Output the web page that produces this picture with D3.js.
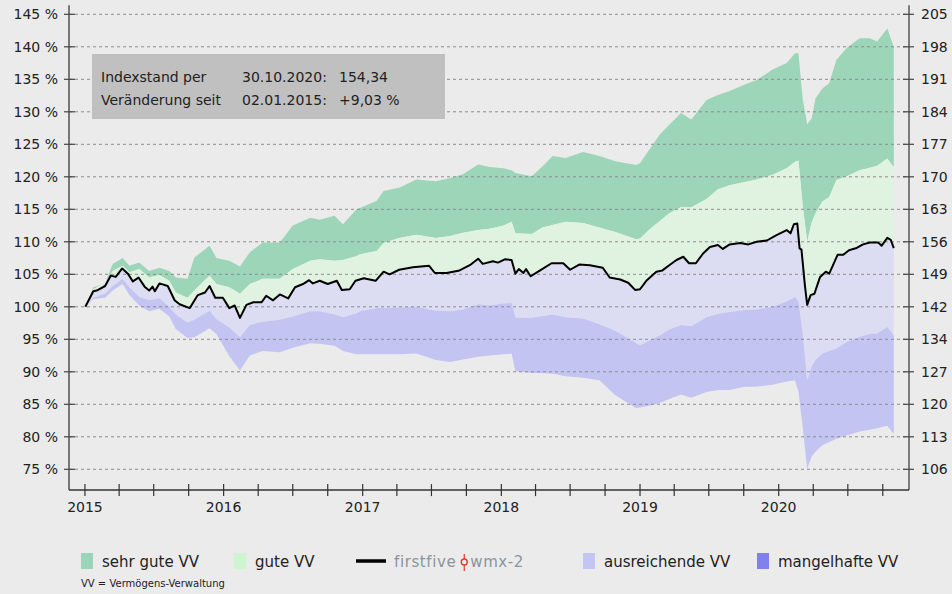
<!DOCTYPE html>
<html>
<head>
<meta charset="utf-8">
<script src="https://cdn.jsdelivr.net/npm/d3@7"></script>
<style>
  html, body { margin: 0; padding: 0; background: #ebebeb; }
  svg { display: block; font-family: "DejaVu Sans", sans-serif; }
</style>
</head>
<body>
<svg id="chart" width="952" height="594"></svg>
<script>
// ---- data ----
const bandDates = ["2015-01-02","2015-01-23","2015-02-23","2015-03-15","2015-04-10","2015-04-28","2015-05-24","2015-06-19","2015-07-16","2015-08-11","2015-08-28","2015-09-28","2015-10-16","2015-11-25","2015-12-13",
  "2016-01-16","2016-02-13","2016-03-10","2016-04-13","2016-05-28","2016-07-01","2016-08-16","2016-09-10","2016-10-19","2016-11-10","2016-12-16","2016-12-25",
  "2017-02-07","2017-02-25","2017-04-07","2017-05-22","2017-07-13","2017-08-19","2017-09-22","2017-11-01","2017-12-01",
  "2018-01-07","2018-01-28","2018-02-07","2018-03-22","2018-04-19","2018-05-16","2018-06-19","2018-08-04","2018-09-16","2018-10-28","2018-12-22",
  "2019-01-01","2019-01-28","2019-02-22","2019-03-19","2019-04-19","2019-05-16","2019-06-25","2019-07-25","2019-08-25","2019-10-04","2019-11-04","2019-12-16",
  "2020-01-22","2020-02-13","2020-02-22","2020-03-04","2020-03-16","2020-03-28","2020-04-07","2020-04-25","2020-05-13","2020-06-01","2020-06-28","2020-08-01","2020-08-28","2020-09-16","2020-10-13","2020-10-25","2020-10-30"];

// upper edge of "sehr gute VV"
const sehrGuteTop = [100,103,103.6,106.6,107.5,106.3,106.8,105.5,106,105.5,104.5,104.3,107.6,109.4,107.5,
  107.1,106.2,108.4,109.9,109.9,112.5,113.7,113.4,114.0,112.7,115,115.2,
  116.3,117.8,118.3,119.6,119.3,119.8,120.4,121.9,121.5,
  121.3,121.0,120.6,120.1,121.6,123.2,122.9,123.8,123.2,122.4,121.8,
  122.1,124.4,126.5,128,129.8,128.8,131.8,132.6,133.2,134.2,134.9,136.5,
  137.5,139,139,132.1,128.1,129,132.1,133.6,134.4,138,139.8,141.3,141.3,140.8,142.8,140.8,140];

// border "sehr gute" / "gute"
const guteTop = [100,102.7,103.7,105.5,106.3,105.3,105.8,104.5,104.9,104.0,102.2,101.4,102.5,104.8,103.5,
  103.0,102.0,103.5,104.3,104.3,105.8,107.1,107.3,107.1,107.2,107.8,108.1,
  108.6,109.8,110.6,111.1,110.6,110.9,111.4,111.8,112.0,
  112.5,113.1,111.3,111.2,112.2,112.6,113.1,112.9,112.2,111.5,110.4,
  110.5,112.0,113.2,114.4,115.3,115.3,116.6,118.1,118.7,119.2,119.6,120.3,
  121.3,122.3,122.5,115.7,110.0,113.0,114.4,116.2,116.9,119.5,120.1,121.0,121.4,121.7,122.8,121.8,121.6];

// border between the two "ausreichende" shades
const ausreichendeMid = [100,101.4,102.0,103.2,104.3,103.0,101.5,101.0,101.3,100.0,98.8,97.6,98.0,99.4,98.1,
  96.8,95.3,97.2,97.7,98.0,98.5,99.3,99.3,98.8,98.4,99.0,99.3,
  99.8,99.8,99.9,100.0,99.4,99.3,99.6,100.4,100.2,
  100.5,100.6,98.3,98.3,98.6,98.8,98.4,98.2,97.3,96.3,94.4,
  94.1,94.9,95.6,96.5,97.2,97.0,98.4,98.9,99.2,99.5,99.6,100.0,
  100.8,101.5,100.8,96.0,88.7,90.8,91.8,92.8,93.2,93.6,94.6,95.4,95.8,95.9,96.9,96.0,95.6];

// lower edge of the coloured range
const ausreichendeLow = [100,101.2,101.4,102.5,103.5,101.8,100.2,99.3,99.7,98.5,96.6,95.2,95.3,96.7,95.8,
  92.4,90.2,92.5,93.2,93.0,93.7,94.4,94.3,94.0,93.2,92.7,92.7,
  92.7,92.7,92.7,92.8,91.8,91.5,91.9,92.3,92.5,
  92.7,92.8,90.1,89.8,89.8,89.7,89.3,89.1,88.7,86.4,84.4,
  84.5,84.8,85.2,85.8,86.5,86.0,86.9,87.2,87.2,87.7,87.7,88.0,
  88.5,88.7,87.0,81.5,75.1,77.0,77.7,78.7,79.2,79.7,80.2,80.8,81.1,81.3,81.7,80.8,80.5];

// firstfive wmx-2 index, % of 02.01.2015
const indexDates = ["2015-01-02","2015-01-23","2015-02-01","2015-02-23","2015-03-10","2015-03-23","2015-04-09","2015-04-24","2015-05-07","2015-05-22","2015-06-07","2015-06-19","2015-06-28","2015-07-04","2015-07-16","2015-08-07","2015-08-25","2015-09-07","2015-10-04","2015-10-25","2015-11-13","2015-11-25","2015-12-10","2015-12-30",
  "2016-01-16","2016-01-30","2016-02-13","2016-03-01","2016-03-19","2016-04-10","2016-04-22","2016-05-10","2016-05-28","2016-06-19","2016-07-07","2016-07-28","2016-08-13","2016-08-23","2016-09-10","2016-10-01","2016-10-25","2016-11-07","2016-11-28","2016-12-13",
  "2017-01-04","2017-02-04","2017-02-25","2017-03-13","2017-04-07","2017-05-13","2017-06-25","2017-07-10","2017-08-10","2017-09-13","2017-10-10","2017-11-01","2017-11-13","2017-12-10","2017-12-23",
  "2018-01-10","2018-01-28","2018-02-07","2018-02-16","2018-02-28","2018-03-07","2018-03-19","2018-04-10","2018-05-13","2018-06-13","2018-07-01","2018-07-25","2018-08-22","2018-09-25","2018-10-13","2018-11-10","2018-12-01","2018-12-19",
  "2019-01-01","2019-01-19","2019-02-13","2019-03-01","2019-03-19","2019-04-07","2019-04-25","2019-05-10","2019-05-28","2019-06-16","2019-07-04","2019-07-25","2019-08-07","2019-08-25","2019-09-22","2019-10-13","2019-11-04","2019-12-01","2019-12-25",
  "2020-01-22","2020-02-01","2020-02-10","2020-02-19","2020-02-25","2020-03-01","2020-03-10","2020-03-16","2020-03-25","2020-04-04","2020-04-19","2020-05-04","2020-05-13","2020-06-04","2020-06-19","2020-07-04","2020-07-22","2020-08-10","2020-08-28","2020-09-19","2020-09-28","2020-10-13","2020-10-22","2020-10-30"];
const indexValues = [100,102.4,102.5,103.2,104.8,104.6,105.9,105.1,103.9,104.5,103.1,102.5,103.1,102.4,103.6,103.2,101.0,100.4,99.8,101.8,102.2,103.2,101.4,101.4,
  99.8,100.2,98.3,100.3,100.7,100.7,101.7,101.0,101.9,101.3,103.0,103.5,104.1,103.6,104.0,103.5,104.0,102.6,102.7,104.0,
  104.4,104.0,105.4,105.0,105.7,106.1,106.3,105.2,105.2,105.6,106.4,107.4,106.6,107.0,106.8,
  107.3,107.2,105.1,105.8,105.2,105.8,104.7,105.5,106.7,106.7,105.7,106.5,106.4,106.0,104.5,104.2,103.7,102.6,
  102.7,104.1,105.4,105.6,106.4,107.2,107.7,106.7,106.7,108.2,109.2,109.5,108.9,109.6,109.8,109.6,110.0,110.2,111.0,
  111.8,111.3,112.7,112.8,109.0,108.8,103.3,100.3,101.8,102.0,104.6,105.4,105.1,108.0,108.0,108.7,109.0,109.6,109.9,109.9,109.4,110.6,110.3,109.03];

const leftTicks = [75, 80, 85, 90, 95, 100, 105, 110, 115, 120, 125, 130, 135, 140, 145];
const rightTickLabels = ["106","113","120","127","134","142","149","156","163","170","177","184","191","198","205"];

const infoRows = [
  ["Indexstand per", "30.10.2020:", "154,34"],
  ["Veränderung seit", "02.01.2015:", "+9,03 %"]
];

const legendItems = [
  {label: "sehr gute VV", color: "#9bd4b8", x: 81},
  {label: "gute VV", color: "#cdf5d0", x: 234},
  {label: "ausreichende VV", color: "#c4c4f5", x: 583},
  {label: "mangelhafte VV", color: "#8080ef", x: 757}
];

// ---- setup ----
const svg = d3.select("#chart");
const parse = d3.timeParse("%Y-%m-%d");

const x = d3.scaleTime()
  .domain([parse("2014-11-20"), parse("2020-12-09")])
  .range([69, 909]);
const y = d3.scaleLinear().domain([75, 145]).range([469.3, 14.3]);
const yTop = y(146.4), yBot = y(71.8);

const band = bandDates.map((d, i) => ({
  date: parse(d), top: sehrGuteTop[i], gute: guteTop[i], mid: ausreichendeMid[i], low: ausreichendeLow[i]
}));
const index = indexDates.map((d, i) => ({date: parse(d), value: indexValues[i]}));

const line = d3.line().x(d => x(d[0])).y(d => y(d[1]));

function bandPath(upper, lower) {
  return line(upper.concat(lower.slice().reverse())) + "Z";
}
const pts = (arr, key) => arr.map(d => [d.date, d[key]]);

// ---- bands ----
const gBands = svg.append("g").attr("id", "bands");
gBands.append("path").attr("fill", "#9dd5b9")
  .attr("d", bandPath(pts(band, "top"), pts(band, "gute")));
gBands.append("path").attr("fill", "#dff3e0")
  .attr("d", bandPath(pts(band, "gute"), pts(index, "value")));
gBands.append("path").attr("fill", "#dcdcf3")
  .attr("d", bandPath(pts(index, "value"), pts(band, "mid")));
gBands.append("path").attr("fill", "#c4c4f3")
  .attr("d", bandPath(pts(band, "mid"), pts(band, "low")));

// ---- grid ----
svg.append("g").attr("id", "grid")
  .selectAll("line")
  .data(leftTicks)
  .join("line")
    .attr("x1", x.range()[0]).attr("x2", x.range()[1])
    .attr("y1", d => y(d)).attr("y2", d => y(d))
    .attr("stroke", "#8c8c8c")
    .attr("stroke-width", 1)
    .attr("stroke-dasharray", "3,3");

// ---- index line ----
svg.append("path")
  .attr("fill", "none")
  .attr("stroke", "#000")
  .attr("stroke-width", 2)
  .attr("stroke-linejoin", "round")
  .attr("d", line(pts(index, "value")));

// ---- axes ----
const gAxes = svg.append("g").attr("font-size", 14).attr("fill", "#222");

gAxes.append("line").attr("x1", 69).attr("x2", 69).attr("y1", yTop).attr("y2", yBot)
  .attr("stroke", "#777").attr("stroke-width", 2);
gAxes.append("line").attr("x1", 909).attr("x2", 909).attr("y1", yTop).attr("y2", yBot)
  .attr("stroke", "#333").attr("stroke-width", 1.2);
gAxes.append("line").attr("x1", 69).attr("x2", 909).attr("y1", yBot).attr("y2", yBot)
  .attr("stroke", "#333").attr("stroke-width", 1.5);

// left ticks + labels
const lt = gAxes.append("g").selectAll("g").data(leftTicks).join("g")
  .attr("transform", d => `translate(0,${y(d)})`);
lt.append("line").attr("x1", 64).attr("x2", 75).attr("stroke", "#444").attr("stroke-width", 1.2);
lt.append("text").attr("x", 58).attr("dy", "0.36em").attr("text-anchor", "end")
  .text(d => `${d} %`);

// right ticks + labels
const rt = gAxes.append("g").selectAll("g").data(leftTicks).join("g")
  .attr("transform", d => `translate(0,${y(d)})`);
rt.append("line").attr("x1", 903).attr("x2", 914).attr("stroke", "#444").attr("stroke-width", 1.2);
rt.append("text").attr("x", 921).attr("dy", "0.36em")
  .text((d, i) => rightTickLabels[i]);

// x ticks (quarters) and year labels
const quarters = x.ticks(d3.timeMonth.every(3));
gAxes.append("g").selectAll("line").data(quarters).join("line")
  .attr("x1", d => x(d)).attr("x2", d => x(d))
  .attr("y1", yBot - 6).attr("y2", yBot + 6)
  .attr("stroke", "#333").attr("stroke-width", 1.2);
gAxes.append("g").selectAll("text").data(quarters.filter(d => d.getMonth() === 0)).join("text")
  .attr("x", d => x(d)).attr("y", 512).attr("text-anchor", "middle")
  .text(d => d.getFullYear());

// ---- info box ----
const info = svg.append("g").attr("font-size", 14).attr("fill", "#222");
info.append("rect").attr("x", 92).attr("y", 54).attr("width", 353).attr("height", 65)
  .attr("fill", "#c0c0c0");
const colX = [101, 242, 339];
infoRows.forEach((row, r) => {
  row.forEach((txt, c) => {
    info.append("text").attr("x", colX[c]).attr("y", 82 + r * 22.5).text(txt);
  });
});

// ---- legend ----
const leg = svg.append("g").attr("font-size", 15).attr("fill", "#222");
legendItems.forEach(it => {
  leg.append("rect").attr("x", it.x).attr("y", 553).attr("width", 12).attr("height", 16)
    .attr("fill", it.color);
  leg.append("text").attr("x", it.x + 21).attr("y", 567).text(it.label);
});

// index line entry with the firstfive-wmx-2 wordmark
leg.append("line").attr("x1", 356).attr("x2", 386).attr("y1", 561).attr("y2", 561)
  .attr("stroke", "#000").attr("stroke-width", 3.5);
const w1 = leg.append("text").attr("x", 394).attr("y", 567).attr("fill", "#8d949b")
  .attr("letter-spacing", 0.6).text("firstfive");
const iconX = 394 + w1.node().getComputedTextLength() + 8;
leg.append("line").attr("x1", iconX).attr("x2", iconX).attr("y1", 554).attr("y2", 571)
  .attr("stroke", "#e8392f").attr("stroke-width", 1.2);
leg.append("circle").attr("cx", iconX).attr("cy", 562).attr("r", 3)
  .attr("fill", "#ebebeb").attr("stroke", "#e8392f").attr("stroke-width", 1.4);
leg.append("text").attr("x", iconX + 6).attr("y", 567).attr("fill", "#8d949b")
  .attr("letter-spacing", 0.6).text("wmx-2");

leg.append("text").attr("x", 81).attr("y", 587).attr("font-size", 10)
  .text("VV = Vermögens-Verwaltung");
</script>
</body>
</html>
